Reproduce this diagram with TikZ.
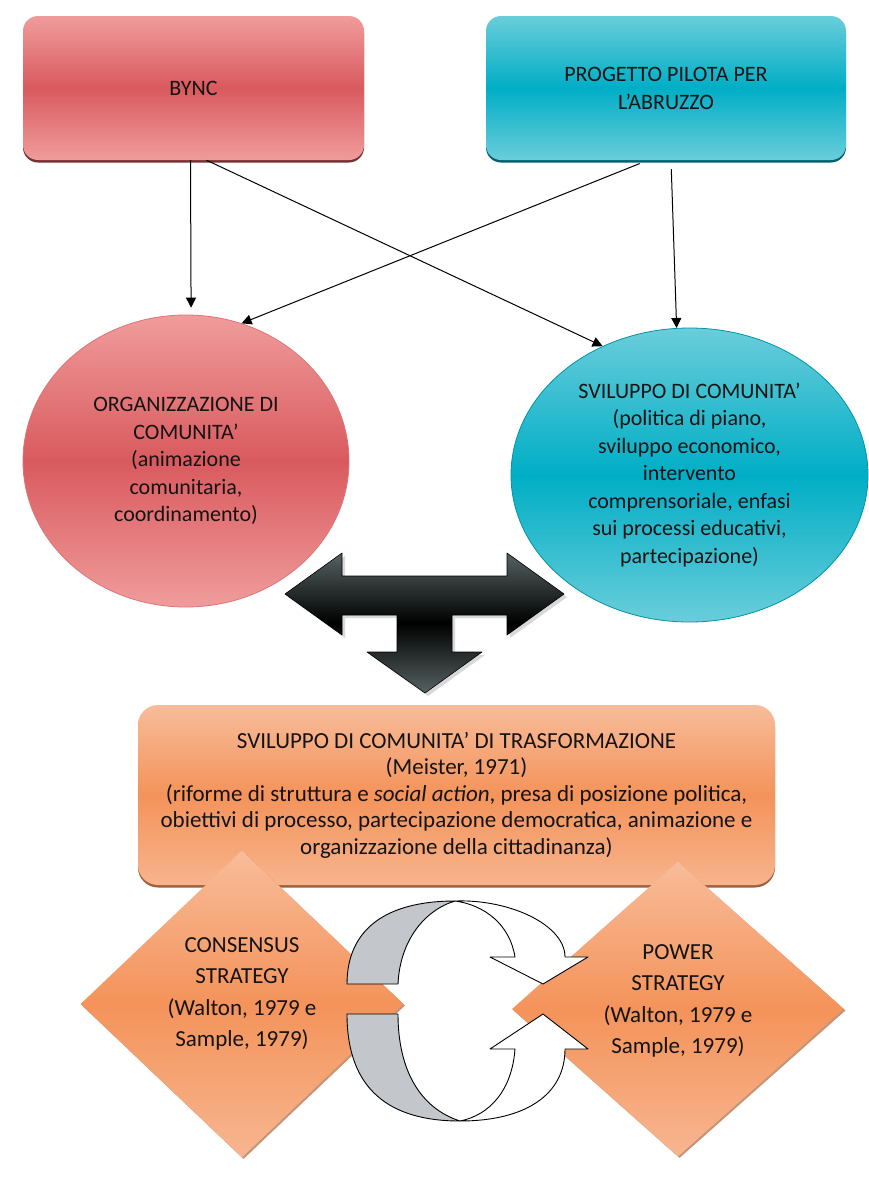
\documentclass[tikz,border=0pt]{standalone}
\usepackage{fontspec}
\setmainfont{Carlito}
\usetikzlibrary{shapes.geometric,arrows.meta,shadows}

\definecolor{rosso}{HTML}{D95A5E}
\definecolor{rossochiaro}{HTML}{F09C9C}
\definecolor{ciano}{HTML}{00AEC6}
\definecolor{cianochiaro}{HTML}{6ACDDA}
\definecolor{arancio}{HTML}{F4935A}
\definecolor{aranciochiaro}{HTML}{F8BC9A}
\definecolor{grigio}{HTML}{C3C6CA}
\definecolor{grigioscuro}{HTML}{566262}
\definecolor{testo}{HTML}{141414}

\begin{document}
\begin{tikzpicture}[x=1pt,y=-1pt]
	\tikzstyle{scatola} = [rectangle, rounded corners=15pt, align=center, inner sep=0pt, text=testo, font=\fontsize{22}{28}\selectfont]
	\tikzstyle{cerchio} = [ellipse, align=center, inner sep=0pt, text=testo, line width=0.8pt, font=\fontsize{22}{27.5}\selectfont]
	\tikzstyle{rombo} = [diamond, inner sep=0pt, top color=aranciochiaro, bottom color=aranciochiaro!85!arancio, middle color=arancio, drop shadow={shadow xshift=1.5pt, shadow yshift=-1.5pt, fill=arancio!70!black, opacity=0.7}]
	\tikzstyle{testorombo} = [align=center, text=testo, font=\fontsize{23}{31.5}\selectfont]
	\tikzstyle{freccia} = [-{Triangle[length=10pt,width=10pt]}, line width=1pt]
	\tikzstyle{nastro} = [draw=black, line width=0.9pt, line join=round]

	\useasboundingbox[fill=white] (0,0) rectangle (869,1192);

	\node[scatola, minimum width=341pt, minimum height=144pt, top color=rossochiaro, bottom color=rossochiaro, middle color=rosso, drop shadow={shadow xshift=0pt, shadow yshift=-2.5pt, fill=rosso!55!black, opacity=1}] (bync) at (193.5,88) {BYNC};
	\node[scatola, minimum width=360pt, minimum height=144pt, top color=cianochiaro, bottom color=cianochiaro, middle color=ciano, drop shadow={shadow xshift=0pt, shadow yshift=-2.5pt, fill=ciano!55!black, opacity=1}] (pilota) at (666,88) {PROGETTO PILOTA PER\\L’ABRUZZO};

	\node[cerchio, minimum width=326pt, minimum height=292pt, draw=rosso!85!white, top color=rossochiaro, bottom color=rossochiaro, middle color=rosso] (org) at (186,461) {ORGANIZZAZIONE DI\\COMUNITA’\\(animazione\\comunitaria,\\coordinamento)};
	\node[cerchio, minimum width=357pt, minimum height=294pt, draw=ciano!85!black, top color=cianochiaro, bottom color=cianochiaro, middle color=ciano] (svil) at (689.5,475) {SVILUPPO DI COMUNITA’\\(politica di piano,\\sviluppo economico,\\intervento\\comprensoriale, enfasi\\sui processi educativi,\\partecipazione)};

	\draw[freccia, shorten >=7pt] ([xshift=-3pt]bync.south) -- (org.88);
	\draw[freccia] ([xshift=13pt]bync.south) -- (svil.124);
	\draw[freccia, shorten <=9pt] ([xshift=-18pt]pilota.south) -- (org.68);
	\draw[freccia, shorten <=9pt] ([xshift=5pt]pilota.south) -- (svil.95);

	\draw[draw=black, line width=0.6pt, line join=round, top color=grigioscuro, bottom color=grigioscuro, middle color=black, drop shadow={shadow xshift=3pt, shadow yshift=-3pt, opacity=0.3}] (285,594) -- (342,553) -- (342,576) -- (507,576) -- (507,553) -- (564,594) -- (507,635) -- (507,615) -- (452,615) -- (452,652) -- (482,652) -- (425,693) -- (367,652) -- (397,652) -- (397,615) -- (342,615) -- (342,635) -- cycle;

	\node[scatola, rounded corners=20pt, minimum width=637pt, minimum height=180pt, top color=aranciochiaro, bottom color=aranciochiaro!80!arancio, middle color=arancio, font=\fontsize{23}{26.5}\selectfont, drop shadow={shadow xshift=0pt, shadow yshift=-2.5pt, fill=arancio!65!black, opacity=1}] (trasf) at (456.5,795) {SVILUPPO DI COMUNITA’ DI TRASFORMAZIONE\\(Meister, 1971)\\(riforme di struttura e \textit{social action}, presa di posizione politica,\\obiettivi di processo, partecipazione democratica, animazione e\\organizzazione della cittadinanza)};

	\node[rombo, minimum width=323pt, minimum height=307pt, label={[testorombo, yshift=10pt]center:{CONSENSUS\\STRATEGY\\(Walton, 1979 e\\Sample, 1979)}}] (consenso) at (242,1004) {};
	\node[rombo, minimum width=332pt, minimum height=295pt, label={[testorombo, yshift=8pt]center:{POWER\\STRATEGY\\(Walton, 1979 e\\Sample, 1979)}}] (potere) at (678,1009) {};

	\draw[nastro, fill=grigio] (347,984) .. controls (347,930) and (385,901) .. (455,901) .. controls (425,910) and (400,940) .. (398,984) -- cycle;
	\draw[nastro, fill=white] (455,901) .. controls (510,899) and (565,925) .. (565,957) -- (588,957) -- (543,984) -- (490,957) -- (515,957) .. controls (510,925) and (485,905) .. (455,901) -- cycle;
	\draw[nastro, fill=grigio] (347,1014) .. controls (347,1090) and (390,1121) .. (460,1121) .. controls (420,1108) and (398,1070) .. (398,1014) -- cycle;
	\draw[nastro, fill=white] (460,1121) .. controls (525,1121) and (565,1095) .. (565,1049) -- (588,1049) -- (543,1014) -- (490,1049) -- (515,1049) .. controls (512,1090) and (490,1115) .. (460,1121) -- cycle;
\end{tikzpicture}
\end{document}
